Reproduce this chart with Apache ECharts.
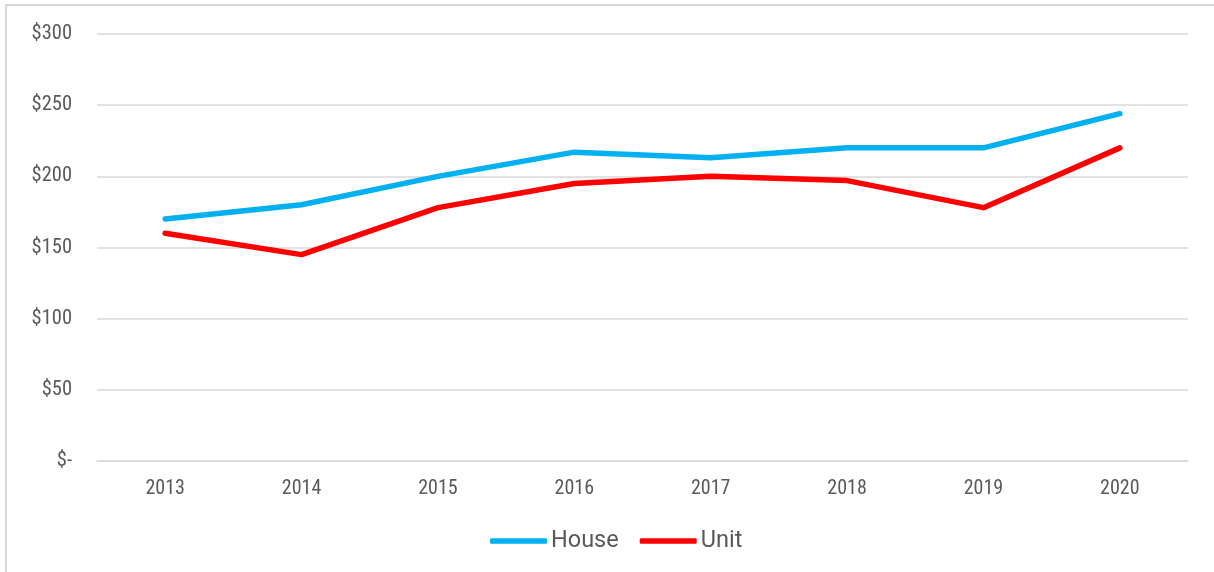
<!DOCTYPE html>
<html lang="en">
<head>
    <meta charset="UTF-8">
    <title>House and Unit</title>
    <style>
        body { margin: 0; background: #fff; }
        #frame { position: absolute; left: 5px; top: 4px; width: 1300px; height: 700px; border-left: 2px solid #d9d9d9; border-top: 2px solid #d9d9d9; }
        #main { position: absolute; left: 0; top: 0; width: 1214px; height: 572px; }
    </style>
</head>
<body>
<div id="frame"></div>
<div id="main"></div>

<script src="https://cdn.jsdelivr.net/npm/echarts@6/dist/echarts.min.js"></script>
<script>
var years = ['2013', '2014', '2015', '2016', '2017', '2018', '2019', '2020'];
var house = [170, 180, 200, 217, 213, 220, 220, 244];
var unit = [160, 145, 178, 195, 200, 197, 178, 220];

var font = '"Roboto Condensed", Roboto, sans-serif';

var myChart = echarts.init(document.getElementById('main'));
myChart.setOption({
    animation: false,
    grid: { left: 97, right: 26, top: 34, bottom: 111 },
    legend: {
        bottom: 14,
        left: 485,
        icon: 'roundRect',
        itemWidth: 57,
        itemHeight: 5.5,
        itemGap: 21,
        textStyle: { fontFamily: 'Roboto, sans-serif', fontSize: 23.5, color: '#595959', padding: [0, 0, 0, -1] },
        data: ['House', 'Unit']
    },
    xAxis: {
        type: 'category',
        data: years,
        boundaryGap: true,
        axisLine: { lineStyle: { color: '#d9d9d9', width: 1.5 } },
        axisTick: { show: false },
        axisLabel: { color: '#595959', fontFamily: font, fontSize: 20, margin: 18 }
    },
    yAxis: {
        type: 'value',
        min: 0,
        max: 300,
        interval: 50,
        axisLine: { show: false },
        axisTick: { show: false },
        splitLine: { lineStyle: { color: '#d9d9d9', width: 1.5 } },
        axisLabel: {
            color: '#595959', fontFamily: font, fontSize: 20.5, margin: 25,
            formatter: function (v) { return v === 0 ? '$-' : '$' + v; }
        }
    },
    series: [
        {
            name: 'House', type: 'line', data: house, symbol: 'none',
            itemStyle: { color: '#00b0f0' },
            lineStyle: { color: '#00b0f0', width: 5.5, cap: 'round', join: 'round' }
        },
        {
            name: 'Unit', type: 'line', data: unit, symbol: 'none',
            itemStyle: { color: '#ff0000' },
            lineStyle: { color: '#ff0000', width: 5.5, cap: 'round', join: 'round' }
        }
    ]
});
</script>
</body>
</html>
